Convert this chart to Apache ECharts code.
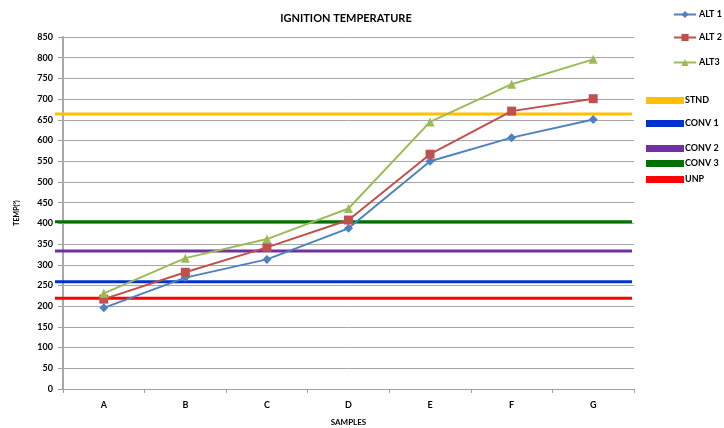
<!DOCTYPE html>
<html><head><meta charset="utf-8">
<script src="https://cdn.jsdelivr.net/npm/echarts@6/dist/echarts.min.js"></script>
<style>html,body{margin:0;padding:0;background:#fff}#c{width:724px;height:428px}</style>
</head><body><div id="c"></div>
<script>
const categories = ['A','B','C','D','E','F','G'];
const alt1 = [196, 269, 313, 388, 550, 607, 651];
const alt2 = [217, 282, 342, 408, 567, 671, 701];
const alt3 = [231, 316, 362, 436, 645, 736, 796];
const refNames = ['STND','CONV 1','CONV 2','CONV 3','UNP'];
const refValues = [664, 259, 333, 404, 219];
const refColors = ['#ffc000','#0033cc','#7030a0','#007000','#ff0000'];
const yTicks = [0, 850, 50];

const FONT = 'Lato';
const chart = echarts.init(document.getElementById('c'));
const altSeries = [
  {name:'ALT 1', data:alt1, color:'#4f81bd', symbol:'diamond', symbolSize:9},
  {name:'ALT 2', data:alt2, color:'#c0504d', symbol:'rect', symbolSize:9},
  {name:'ALT3', data:alt3, color:'#9bbb59', symbol:'triangle', symbolSize:9}
].map(s => ({
  type:'line', name:s.name, data:s.data, xAxisIndex:0, yAxisIndex:0,
  symbol:s.symbol, symbolSize:s.symbolSize, z:5,
  itemStyle:{color:s.color}, lineStyle:{color:s.color, width:2}
}));
const refSeries = refNames.map((n,i) => ({
  type:'line', name:n, xAxisIndex:1, yAxisIndex:1, symbol:'none', z:3,
  data:[[0, refValues[i]],[1, refValues[i]]],
  itemStyle:{color:refColors[i]}, lineStyle:{color:refColors[i], width:3}
}));
const legendText = {fontFamily:FONT, fontWeight:'bold', fontSize:9, color:'#000'};
const altLegendTops = [10, 33, 58];
const refLegendTops = [96, 119, 144, 159, 175];
const legends = [];
['ALT 1','ALT 2','ALT3'].forEach((n,i) => legends.push({
  data:[n], left:673, top:altLegendTops[i], itemWidth:22, itemHeight:9, width:60,
  padding:0, textStyle:Object.assign({padding:[0,0,0,-2]}, legendText), selectedMode:false
}));
refNames.forEach((n,i) => legends.push({
  data:[{name:n, icon:'rect'}], left:646, top:refLegendTops[i], itemWidth:38, itemHeight:7,
  padding:0, textStyle:Object.assign({padding:[0,0,5,-4]}, legendText), selectedMode:false
}));

chart.setOption({
  animation:false,
  title:{text:'IGNITION TEMPERATURE', left:341, top:8, textAlign:'center',
    textStyle:{fontFamily:FONT, fontWeight:'bold', fontSize:11, color:'#000'}},
  legend:legends,
  grid:[
    {left:63, right:90, top:37, bottom:39, containLabel:false, outerBoundsMode:'none'},
    {left:55, right:92, top:37, bottom:39, containLabel:false, outerBoundsMode:'none'}
  ],
  xAxis:[
    {type:'category', data:categories, gridIndex:0, boundaryGap:true,
      name:'SAMPLES', nameLocation:'middle', nameGap:29,
      nameTextStyle:{fontFamily:FONT, fontWeight:'bold', fontSize:8, color:'#000'},
      axisLine:{lineStyle:{color:'#a0a0a0', width:1}},
      axisTick:{show:true, length:4, lineStyle:{color:'#a0a0a0'}},
      axisLabel:{fontFamily:FONT, fontWeight:'bold', fontSize:9, color:'#000', margin:12}},
    {type:'value', gridIndex:1, min:0, max:1, show:false}
  ],
  yAxis:[
    {type:'value', gridIndex:0, min:yTicks[0], max:yTicks[1], interval:yTicks[2],
      name:'TEMP(\u2070)', nameLocation:'middle', nameGap:43,
      nameTextStyle:{fontFamily:FONT, fontWeight:'bold', fontSize:7, color:'#000'},
      axisLine:{show:true, lineStyle:{color:'#a8a8a8', width:2}},
      axisTick:{show:true, length:5, lineStyle:{color:'#a0a0a0'}},
      axisLabel:{fontFamily:FONT, fontWeight:'bold', fontSize:9, color:'#000', margin:10},
      splitLine:{lineStyle:{color:'#a6a6a6', width:1}}},
    {type:'value', gridIndex:1, min:yTicks[0], max:yTicks[1], show:false}
  ],
  series: refSeries.concat(altSeries)
});
</script></body></html>
